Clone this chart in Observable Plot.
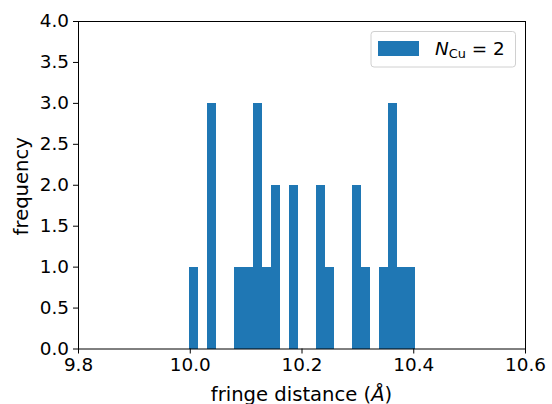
<!DOCTYPE html>
<html><head><meta charset="utf-8">
<script src="https://cdn.jsdelivr.net/npm/d3@7"></script>
<script src="https://cdn.jsdelivr.net/npm/@observablehq/plot@0.6"></script>
<style>
body{margin:0;background:#fff}
#chart svg{display:block}
</style>
</head><body><div id="chart"></div>
<script>
// Histogram: 25 equal bins between binLow and binHigh
const binLow = 9.999;
const binHigh = 10.404;
const counts = [1,0,3,0,0,1,1,3,1,2,0,2,0,0,2,1,0,0,2,1,0,1,3,1,1];
const xTicks = [9.8, 10.0, 10.2, 10.4, 10.6];
const yTicks = [0, 0.5, 1.0, 1.5, 2.0, 2.5, 3.0, 3.5, 4.0];
const xLabel = ["fringe distance (", "Å", ")"];
const yLabel = "frequency";
const seriesName = {main: "N", sub: "Cu", rest: " = 2"};

const nBins = counts.length;
const w = (binHigh - binLow) / nBins;
const bins = counts.map((c, i) => ({x1: binLow + i * w, x2: binLow + (i + 1) * w, y: c})).filter(d => d.y > 0);

const font = "DejaVu Sans, sans-serif";
const fs = 18.4;     // tick + legend text
const fsLab = 19.6;  // axis titles
const W = 552, H = 404;
const mL = 78, mR = 27, mT = 21, mB = 55.5;

const chart = Plot.plot({
  width: W, height: H,
  marginLeft: mL, marginRight: mR, marginTop: mT, marginBottom: mB,
  style: {fontFamily: font, fontSize: fs + "px", color: "black", background: "white"},
  x: {domain: [9.8, 10.6]},
  y: {domain: [0, 4]},
  marks: [
    Plot.rectY(bins, {x1: "x1", x2: "x2", y: "y", fill: "#1f77b4", inset: 0, shapeRendering: "crispEdges"}),
    Plot.axisX({ticks: xTicks, tickFormat: d3.format(".1f"), tickSize: 5, tickPadding: 3.5, label: null, fontSize: fs, strokeWidth: 1}),
    Plot.axisY({ticks: yTicks, tickFormat: d3.format(".1f"), tickSize: 5, tickPadding: 4.5, label: null, fontSize: fs, strokeWidth: 1}),
    Plot.frame({stroke: "black", strokeWidth: 1})
  ]
});

const svg = d3.select(chart);
// axis labels
const xl = svg.append("text")
  .attr("x", (mL + W - mR) / 2).attr("y", 400.5)
  .attr("text-anchor", "middle")
  .style("font-family", font).style("font-size", fsLab + "px").attr("fill", "black");
xl.append("tspan").text(xLabel[0]);
xl.append("tspan").text(xLabel[1]).style("font-style", "italic");
xl.append("tspan").text(xLabel[2]);

svg.append("text")
  .attr("transform", `translate(28,${(mT + H - mB) / 2 + 1.5}) rotate(-90)`)
  .attr("text-anchor", "middle")
  .style("font-family", font).style("font-size", fsLab + "px").attr("fill", "black")
  .text(yLabel);

// legend
const lg = svg.append("g");
lg.append("rect").attr("x", 371).attr("y", 31.5).attr("width", 144.5).attr("height", 35.5)
  .attr("rx", 3).attr("fill", "white").attr("fill-opacity", 0.8)
  .attr("stroke", "#d0d0d0").attr("stroke-width", 1);
lg.append("rect").attr("x", 378).attr("y", 41).attr("width", 41).attr("height", 15).attr("fill", "#1f77b4");
const lt = lg.append("text").attr("x", 435).attr("y", 54.5).attr("text-anchor", "start")
  .style("font-family", font).style("font-size", fs + "px").attr("fill", "black");
lt.append("tspan").text(seriesName.main).style("font-style", "italic");
lt.append("tspan").text(seriesName.sub).attr("dy", 3).style("font-size", (fs * 0.7) + "px");
lt.append("tspan").text(seriesName.rest).attr("dy", -3);

document.getElementById("chart").appendChild(chart);
</script>
</body></html>
